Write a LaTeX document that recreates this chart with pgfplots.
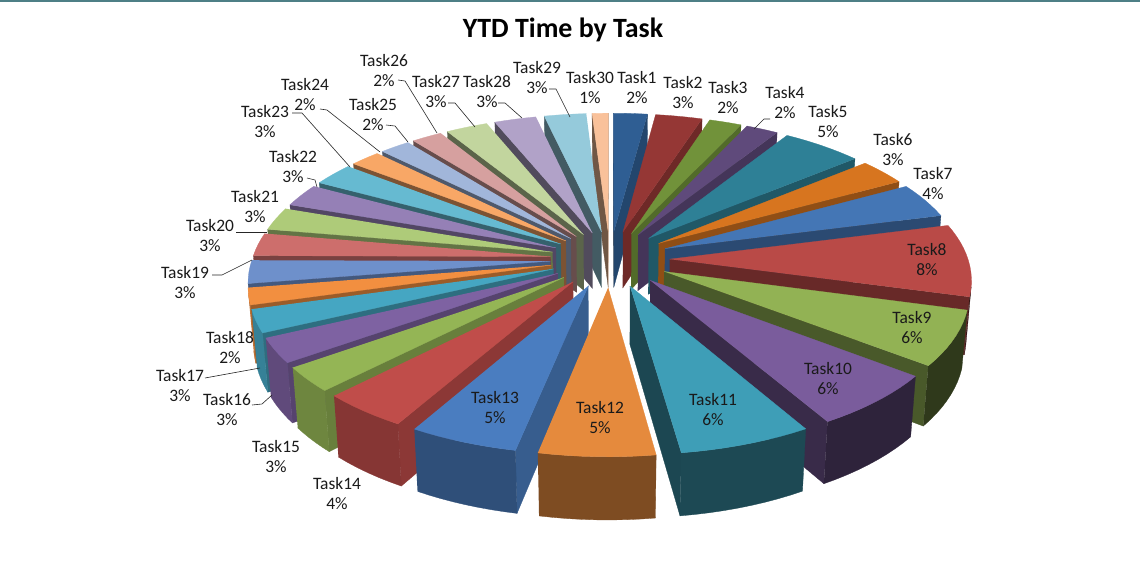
\documentclass[border=0pt]{standalone}
\usepackage{pgfplots}
\usepackage{pgfplotstable}
\pgfplotsset{compat=1.18}
\usepackage{fontspec}
\setmainfont{Carlito}

\definecolor{c1}{HTML}{2F5E93}\definecolor{c2}{HTML}{953735}\definecolor{c3}{HTML}{71923A}
\definecolor{c4}{HTML}{5F4A7B}\definecolor{c5}{HTML}{2E8096}\definecolor{c6}{HTML}{D7751F}
\definecolor{c7}{HTML}{4476B5}\definecolor{c8}{HTML}{B94A47}\definecolor{c9}{HTML}{92B254}
\definecolor{c10}{HTML}{7A5C9C}\definecolor{c11}{HTML}{3E9EB7}\definecolor{c12}{HTML}{E58A3D}
\definecolor{c13}{HTML}{4A7DC0}\definecolor{c14}{HTML}{C04D4A}\definecolor{c15}{HTML}{94B555}
\definecolor{c16}{HTML}{7E62A2}\definecolor{c17}{HTML}{45A6C2}\definecolor{c18}{HTML}{F28F40}
\definecolor{c19}{HTML}{6E90CB}\definecolor{c20}{HTML}{CD6E6C}\definecolor{c21}{HTML}{AECB79}
\definecolor{c22}{HTML}{9580B6}\definecolor{c23}{HTML}{66BAD1}\definecolor{c24}{HTML}{F8A766}
\definecolor{c25}{HTML}{A1B6DA}\definecolor{c26}{HTML}{D6A09F}\definecolor{c27}{HTML}{C2D59E}
\definecolor{c28}{HTML}{B1A2C8}\definecolor{c29}{HTML}{95CADB}\definecolor{c30}{HTML}{F9C19A}
\definecolor{topline}{HTML}{4D7F86}
\definecolor{labtxt}{HTML}{1A1A1A}

% share of YTD time per task (percent)
\pgfplotstableread{
task value
1 2.1
2 2.9
3 2.0
4 2.0
5 5.0
6 3.0
7 4.0
8 8.2
9 6.2
10 6.2
11 6.2
12 5.4
13 5.1
14 4.1
15 2.8
16 2.8
17 2.6
18 1.9
19 2.6
20 2.6
21 2.6
22 2.6
23 2.6
24 1.9
25 1.9
26 1.9
27 2.6
28 2.6
29 2.6
30 1.0
}\piedata

% view geometry (pixels of the 1140x561 canvas, y downwards)
\def\cx{610}\def\cyi{259}\def\Fc{2088}\def\Lc{7}
\def\sbe{0.469}\def\cbe{0.883}\def\exf{0.2}\def\hh{0.218}

\newcommand\proj[3]{%
  \pgfmathsetmacro\dep{\Lc+(#2)*\cbe-(#3)*\sbe}%
  \pgfmathsetmacro\px{\cx+\Fc*(#1)/\dep}%
  \pgfmathsetmacro\py{\cyi-\Fc*((#2)*\sbe+(#3)*\cbe)/\dep}%
}
\newcommand\arcpts[3]{%
  \pgfmathtruncatemacro\nn{max(2,ceil(abs((#2)-(#1))/2.5))}%
  \foreach \j in {0,...,\nn}{%
    \pgfmathsetmacro\ph{(#1)+((#2)-(#1))*\j/\nn}%
    \pgfmathsetmacro\uu{\ou+cos(\ph)}%
    \pgfmathsetmacro\vv{\ov+sin(\ph)}%
    \proj{\uu}{\vv}{#3}%
    \xdef\coords{\coords (\px,\py)}%
  }%
}
\newcommand\radface[3]{%
  \pgfmathsetmacro\vis{(#3)*(\BB*cos(#2)-\ou*sin(#2))}%
  \ifdim\vis pt>0pt
    \pgfmathtruncatemacro\shd{60+(#3)*15*sin(#2)}%
    \pgfmathsetmacro\uu{\ou+cos(#2)}%
    \pgfmathsetmacro\vv{\ov+sin(#2)}%
    \xdef\coords{(\ctx,\cty)}%
    \proj{\uu}{\vv}{0}\xdef\coords{\coords (\px,\py)}%
    \proj{\uu}{\vv}{-\hh}\xdef\coords{\coords (\px,\py)}%
    \xdef\coords{\coords (\cbx,\cby)}%
    \edef\cmd{\noexpand\addplot[fill=c#1!\shd!black,draw=c#1!\shd!black,line width=0.3pt,line join=round] coordinates {\coords};}\cmd
  \fi
}
\newcommand\drawslice[1]{%
  \pgfmathsetmacro\phA{90-3.6*(\csname cs#1\endcsname)*(100/\total)}%
  \pgfmathsetmacro\phB{90-3.6*(\csname ce#1\endcsname)*(100/\total)}%
  \pgfmathsetmacro\phM{(\phA+\phB)/2}%
  \pgfmathsetmacro\ou{\exf*cos(\phM)}%
  \pgfmathsetmacro\ov{\exf*sin(\phM)}%
  \pgfmathsetmacro\BB{\Lc*\cbe+\ov}%
  \proj{\ou}{\ov}{0}\let\ctx\px\let\cty\py
  \proj{\ou}{\ov}{-\hh}\let\cbx\px\let\cby\py
  \radface{#1}{\phA}{-1}%
  \radface{#1}{\phB}{1}%
  % outer wall
  \pgfmathsetmacro\RR{sqrt(\ou*\ou+\BB*\BB)}%
  \pgfmathsetmacro\psiA{atan2(\BB,\ou)}%
  \pgfmathsetmacro\gam{acos(1/\RR)}%
  \pgfmathsetmacro\wlo{max(\phB,\psiA-180-\gam)}%
  \pgfmathsetmacro\whi{min(\phA,\psiA-180+\gam)}%
  \ifdim\whi pt>\wlo pt
    \pgfmathtruncatemacro\shd{55-25*cos((\wlo+\whi)/2)}%
    \xdef\coords{}%
    \arcpts{\wlo}{\whi}{0}%
    \arcpts{\whi}{\wlo}{-\hh}%
    \edef\cmd{\noexpand\addplot[fill=c#1!\shd!black,draw=c#1!\shd!black,line width=0.3pt,line join=round] coordinates {\coords};}\cmd
  \fi
  % top face
  \xdef\coords{(\ctx,\cty)}%
  \arcpts{\phA}{\phB}{0}%
  \edef\cmd{\noexpand\addplot[fill=c#1,draw=c#1,line width=0.3pt,line join=round] coordinates {\coords};}\cmd
}
\newcommand\lab[4]{%
  \node[font=\fontsize{17.5}{20}\selectfont,text=labtxt,inner sep=0pt] at (axis cs:#1,#2-10) {#3};
  \node[font=\fontsize{17.5}{20}\selectfont,text=labtxt,inner sep=0pt] at (axis cs:#1,#2+10) {#4};
}

\begin{document}
\xdef\cum{0}%
\foreach \i in {1,...,30}{%
  \pgfmathtruncatemacro\r{\i-1}%
  \pgfplotstablegetelem{\r}{value}\of\piedata
  \expandafter\xdef\csname cs\i\endcsname{\cum}%
  \pgfmathsetmacro\nc{\cum+\pgfplotsretval}%
  \xdef\cum{\nc}%
  \expandafter\xdef\csname ce\i\endcsname{\cum}%
}%
\let\total\cum
\begin{tikzpicture}
\begin{axis}[
  width=1140bp, height=561bp, scale only axis,
  xmin=0, xmax=1140, ymin=0, ymax=561, y dir=reverse,
  hide axis, clip=false,
]
\addplot[fill=white, draw=none] coordinates {(0,0) (1140,0) (1140,561) (0,561)};
\addplot[fill=topline, draw=none] coordinates {(0,0) (1140,0) (1140,2) (0,2)};

\foreach \k in {30,1,29,2,28,3,27,4,26,5,25,24,6,23,22,7,21,20,8,19,18,17,9,16,15,10,14,13,11,12}{%
  \drawslice{\k}%
}

% leader lines
\addplot[black!85, line width=0.6pt] coordinates {(770,119) (764,119) (754,129)};
\addplot[black!85, line width=0.6pt] coordinates {(212,275) (222,275) (252,260)};
\addplot[black!85, line width=0.6pt] coordinates {(236,232) (267,232)};
\addplot[black!85, line width=0.6pt] coordinates {(307,178) (315,180) (317,187)};
\addplot[black!85, line width=0.6pt] coordinates {(292,113) (302,113) (350,167)};
\addplot[black!85, line width=0.6pt] coordinates {(320,109) (327,110) (380,152)};
\addplot[black!85, line width=0.6pt] coordinates {(386,125) (395,126) (408,142)};
\addplot[black!85, line width=0.6pt] coordinates {(398,80) (405,81) (437,133)};
\addplot[black!85, line width=0.6pt] coordinates {(448,103) (455,103) (475,127)};
\addplot[black!85, line width=0.6pt] coordinates {(498,103) (505,103) (522,118)};
\addplot[black!85, line width=0.6pt] coordinates {(549,89) (556,89) (570,117)};
\addplot[black!85, line width=0.6pt] coordinates {(205,378) (260,368)};
\addplot[black!85, line width=0.6pt] coordinates {(252,405) (262,404) (272,395)};

% labels
\lab{637}{88}{Task1}{2\%}
\lab{683}{93}{Task2}{3\%}
\lab{728}{98}{Task3}{2\%}
\lab{785}{103}{Task4}{2\%}
\lab{828}{122}{Task5}{5\%}
\lab{893}{150}{Task6}{3\%}
\lab{933}{184}{Task7}{4\%}
\lab{927}{260}{Task8}{8\%}
\lab{912}{328}{Task9}{6\%}
\lab{828}{379}{Task10}{6\%}
\lab{713}{410}{Task11}{6\%}
\lab{600}{418}{Task12}{5\%}
\lab{495}{408}{Task13}{5\%}
\lab{337}{494}{Task14}{4\%}
\lab{276}{457}{Task15}{3\%}
\lab{227}{410}{Task16}{3\%}
\lab{180}{386}{Task17}{3\%}
\lab{230}{348}{Task18}{2\%}
\lab{185}{283}{Task19}{3\%}
\lab{210}{236}{Task20}{3\%}
\lab{255}{207}{Task21}{3\%}
\lab{293}{167}{Task22}{3\%}
\lab{265}{122}{Task23}{3\%}
\lab{305}{95}{Task24}{2\%}
\lab{373}{115}{Task25}{2\%}
\lab{384}{71}{Task26}{2\%}
\lab{436}{92}{Task27}{3\%}
\lab{487}{92}{Task28}{3\%}
\lab{537}{78}{Task29}{3\%}
\lab{590}{88}{Task30}{1\%}

\node[font=\fontsize{28}{30}\selectfont\bfseries, anchor=base] at (axis cs:563,38) {YTD Time by Task};
\end{axis}
\pgfresetboundingbox
\path (0,0) rectangle (1140bp,561bp);
\end{tikzpicture}
\end{document}
